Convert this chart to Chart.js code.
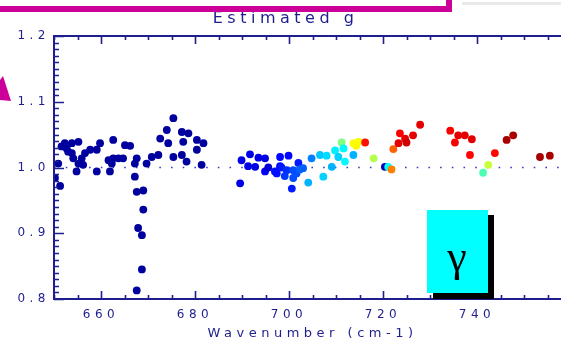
<!DOCTYPE html>
<html><head><meta charset="utf-8">
<script src="https://cdn.jsdelivr.net/npm/chart.js@4/dist/chart.umd.min.js"></script>
<style>
html,body{margin:0;padding:0;background:#fff;overflow:hidden;width:561px;height:343px}
#wrap{position:absolute;left:0;top:0;width:580px;height:343px}
</style></head><body>
<div id="wrap"><canvas id="c" width="580" height="343"></canvas></div>
<script>
// ---- data ----
const wavenumber = [
 650.2,651.3,650.9,651.6,652.3,652.7,653.0,653.8,653.8,654.1,655.2,655.2,654.8,655.9,656.2,656.6,657.7,659.1,659.8,659.1,
 661.6,662.3,661.9,662.6,662.6,663.7,664.7,665.1,666.2,667.6,667.2,667.2,667.6,669.0,669.0,667.9,668.7,668.7,667.6,669.7,
 670.8,672.2,672.6,674.0,674.3,675.4,675.4,677.2,677.5,677.2,678.2,678.6,680.4,680.4,681.8,681.4,
 689.6,689.9,691.3,691.7,692.8,693.5,694.9,694.9,695.6,697.0,697.4,698.1,698.1,698.4,699.9,699.5,699.1,700.9,700.9,700.6,
 701.6,702.0,702.3,703.0,704.1,704.8,706.6,707.3,708.0,709.1,709.8,710.5,711.2,711.6,711.9,713.7,713.7,714.8,714.3,716.2,718.0,
 720.4,721.1,721.8,722.2,723.3,723.6,724.7,725.0,726.4,727.9,734.3,735.3,736.0,737.4,738.9,738.5,741.3,742.4,743.8,746.3,747.7,753.4,755.5
];
const gValues = [
 0.984,0.972,1.006,1.032,1.037,1.029,1.024,1.037,1.022,1.014,1.039,1.006,0.994,1.014,1.004,1.022,1.027,1.027,1.037,0.994,
 1.011,1.006,0.994,1.042,1.014,1.014,1.014,1.034,1.033,1.014,1.006,0.986,0.963,0.965,0.936,0.908,0.897,0.845,0.813,1.006,
 1.016,1.019,1.044,1.057,1.037,1.075,1.016,1.054,1.039,1.019,1.009,1.052,1.042,1.027,1.037,1.004,
 0.976,1.011,1.002,1.020,1.001,1.015,1.014,0.994,1.000,0.994,0.991,1.016,1.002,1.000,1.018,0.996,0.987,0.996,0.984,0.968,
 0.991,1.007,0.997,0.999,0.977,1.014,1.019,0.986,1.018,1.001,1.026,1.016,1.038,1.029,1.009,1.019,1.037,1.039,1.033,1.038,1.014,
 1.001,1.001,0.997,1.028,1.037,1.052,1.044,1.038,1.049,1.065,1.056,1.038,1.049,1.049,1.043,1.019,0.992,1.004,1.022,1.042,1.049,1.016,1.018
];
// colour-scale level (0..1) of each point
const colorLevel = [
 0.03,0.03,0.03,0.03,0.03,0.03,0.03,0.03,0.03,0.03,0.03,0.03,0.03,0.03,0.03,0.03,0.03,0.03,0.03,0.03,
 0.03,0.03,0.03,0.03,0.03,0.03,0.03,0.03,0.03,0.03,0.03,0.03,0.03,0.03,0.03,0.03,0.03,0.03,0.03,0.03,
 0.03,0.03,0.03,0.03,0.03,0.03,0.03,0.03,0.03,0.03,0.03,0.03,0.03,0.03,0.03,0.03,
 0.10,0.10,0.10,0.10,0.10,0.10,0.10,0.12,0.08,0.14,0.14,0.13,0.13,0.15,0.13,0.17,0.18,0.20,0.20,0.15,
 0.20,0.15,0.22,0.22,0.30,0.25,0.32,0.33,0.34,0.30,0.36,0.33,0.50,0.37,0.37,0.30,0.62,0.62,0.63,0.86,0.55,
 0.05,0.38,0.75,0.78,0.90,0.88,0.90,0.92,0.90,0.90,0.88,0.88,0.90,0.90,0.90,0.87,0.45,0.57,0.87,0.96,0.96,0.96,0.96
];
const xTickValues = [660, 680, 700, 720, 740];
const yTickValues = [0.8, 0.9, 1.0, 1.1, 1.2];
const xRange = [650, 760];
const yRange = [0.8, 1.2];
const referenceG = 1.0;
const chartTitle = 'Estimated g';
const xAxisTitle = 'Wavenumber (cm-1)';
const insetLabel = 'γ';

// ---- styling ----
const NAVY = '#1e1e8e';
function jet(v){
  const c = t => Math.round(255*Math.max(0, Math.min(1, 1.5 - Math.abs(t))));
  return `rgb(${c(4*v-3)},${c(4*v-2)},${c(4*v-1)})`;
}
const SPACING = '4.5px';
const spacingPlugin = {
  id:'spacing',
  beforeUpdate(chart){ chart.ctx.letterSpacing = SPACING; },
  beforeLayout(chart){ chart.ctx.letterSpacing = SPACING; },
  beforeDraw(chart){ chart.ctx.letterSpacing = SPACING; }
};
const framePlugin = {
  id:'frame',
  afterDraw(chart){
    const {ctx, chartArea:a, scales:{x, y}} = chart;
    ctx.save();
    ctx.letterSpacing = '0px';
    ctx.strokeStyle = NAVY;
    ctx.lineWidth = 2;
    ctx.strokeRect(a.left, a.top, a.right - a.left, a.bottom - a.top);
    ctx.lineWidth = 1.6;
    ctx.beginPath();
    for (let v = xRange[0]; v <= xRange[1]; v += 5) {
      const px = Math.round(x.getPixelForValue(v)) + 0.5;
      const L = (v % 20 === 0) ? 8 : 4;
      ctx.moveTo(px, a.bottom); ctx.lineTo(px, a.bottom - L);
      ctx.moveTo(px, a.top); ctx.lineTo(px, a.top + L);
    }
    for (let k = 80; k <= 120; k++) {
      const py = Math.round(y.getPixelForValue(k/100)) + 0.5;
      const L = (k % 10 === 0) ? 10 : 5;
      ctx.moveTo(a.left, py); ctx.lineTo(a.left + L, py);
      ctx.moveTo(a.right, py); ctx.lineTo(a.right - L, py);
    }
    ctx.stroke();

    // overlay decorations
    ctx.fillStyle = '#e9e9e9';
    ctx.fillRect(462, 2, 99, 3);
    ctx.fillStyle = '#cc0099';
    ctx.fillRect(0, 6, 452, 6);
    ctx.fillRect(446, 0, 6, 12);
    ctx.beginPath();
    ctx.moveTo(0, 80); ctx.lineTo(3, 76); ctx.lineTo(11, 101); ctx.lineTo(0, 100); ctx.closePath();
    ctx.fill();
    ctx.fillStyle = '#000';
    ctx.fillRect(433, 215, 61, 84);
    ctx.fillStyle = '#00ffff';
    ctx.fillRect(427, 210, 61, 83);
    ctx.fillStyle = '#000';
    ctx.font = '44px "Liberation Serif"';
    ctx.textAlign = 'center';
    ctx.textBaseline = 'alphabetic';
    ctx.fillText(insetLabel, 457, 271);
    ctx.restore();
  }
};

const points = wavenumber.map((x, i) => ({x, y: gValues[i]}));
const refLine = xRange.map(x => ({x, y: referenceG}));

new Chart(document.getElementById('c'), {
  type: 'scatter',
  data: {
    datasets: [
      {data: points, pointBackgroundColor: colorLevel.map(jet), pointBorderWidth: 0,
       pointRadius: 3.9, pointStyle: 'circle', order: 1},
      {type: 'line', data: refLine, borderColor: '#3a3ac4', borderWidth: 1.6,
       borderDash: [1.6, 10.1], pointRadius: 0, order: 2}
    ]
  },
  options: {
    responsive: false, animation: false, devicePixelRatio: 1,
    layout: {padding: {top: 10, right: 9, left: 0, bottom: 0}},
    plugins: {
      legend: {display: false}, tooltip: {enabled: false},
      title: {display: true, text: chartTitle, color: NAVY,
              font: {family: '"DejaVu Sans"', size: 16, weight: 'normal', lineHeight: 1.125},
              padding: {top: 0, bottom: 8}}
    },
    scales: {
      x: {
        type: 'linear', min: xRange[0], max: xRange[1],
        grid: {display: false, drawTicks: false}, border: {display: false},
        afterBuildTicks: s => { s.ticks = xTickValues.map(v => ({value: v})); },
        afterFit: s => { s.height = 44; },
        ticks: {color: NAVY, font: {family: '"DejaVu Sans"', size: 12, lineHeight: 1.2},
                padding: 9, maxRotation: 0, autoSkip: false, callback: v => String(v)},
        title: {display: true, text: xAxisTitle, color: NAVY,
                font: {family: '"DejaVu Sans"', size: 13, lineHeight: 1.2}, padding: {top: 0, bottom: 2}}
      },
      y: {
        type: 'linear', min: yRange[0], max: yRange[1],
        grid: {display: false, drawTicks: false}, border: {display: false},
        afterBuildTicks: s => { s.ticks = yTickValues.map(v => ({value: v})); },
        afterFit: s => { s.width = 54; },
        ticks: {color: NAVY, font: {family: '"DejaVu Sans"', size: 12}, padding: 4,
                autoSkip: false, callback: v => Number(v).toFixed(1)}
      }
    }
  },
  plugins: [spacingPlugin, framePlugin]
});
</script>
</body></html>
